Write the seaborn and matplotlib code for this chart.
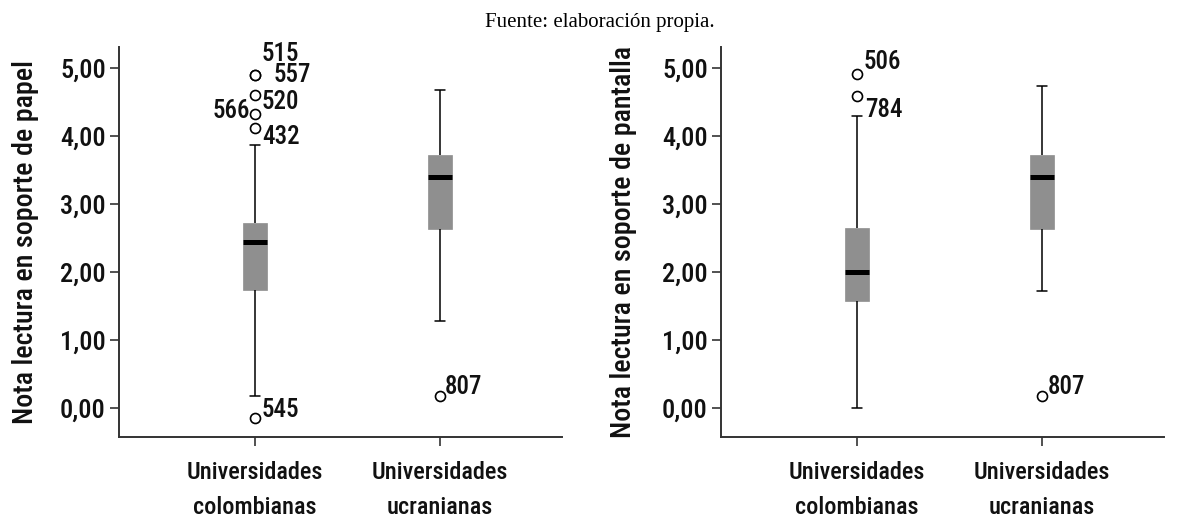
import numpy as np
import pandas as pd
import matplotlib
matplotlib.use("Agg")
import matplotlib.pyplot as plt
from matplotlib import font_manager as fm
from matplotlib.ticker import FuncFormatter
import seaborn as sns

# ---------------- data ----------------
categories = ["Universidades\ncolombianas", "Universidades\nucranianas"]

# five-number summaries (whisker low, Q1, median, Q3, whisker high)
papel_colombianas = [0.17, 1.73, 2.44, 2.71, 3.86]
papel_ucranianas = [1.28, 2.63, 3.39, 3.71, 4.67]
pantalla_colombianas = [0.00, 1.57, 2.00, 2.65, 4.29]
pantalla_ucranianas = [1.71, 2.63, 3.39, 3.71, 4.73]

# outliers
papel_out_group = [0, 0, 0, 0, 0, 0, 1]
papel_out_value = [4.90, 4.90, 4.60, 4.32, 4.11, -0.15, 0.17]
papel_out_label = ["515", "557", "520", "566", "432", "545", "807"]

pantalla_out_group = [0, 0, 1]
pantalla_out_value = [4.91, 4.59, 0.17]
pantalla_out_label = ["506", "784", "807"]

ylabels = ["Nota lectura en soporte de papel", "Nota lectura en soporte de pantalla"]
yticks = [0, 1, 2, 3, 4, 5]
source_text = "Fuente: elaboración propia."

# ---------------- fonts ----------------
sns.set_style("ticks")
names = {f.name for f in fm.fontManager.ttflist}
FONT = None
for cand in ["Roboto Condensed", "Liberation Sans Narrow", "Open Sans Condensed", "DejaVu Sans"]:
    if cand in names:
        FONT = cand
        break
plt.rcParams["font.family"] = [FONT, "DejaVu Sans"]
plt.rcParams["font.weight"] = "medium"

TEXT = "#111111"
BOX = "#8f8f8f"
AXC = "#333333"
WEIGHT = "medium"

fig = plt.figure(figsize=(11.87, 5.18), dpi=100)
ax_positions = [[119 / 1187, 1 - 437 / 518, 443 / 1187, (437 - 46.7) / 518],
                [721 / 1187, 1 - 437 / 518, 443 / 1187, (437 - 46.7) / 518]]

panels = [
    (papel_colombianas, papel_ucranianas, papel_out_group, papel_out_value, papel_out_label),
    (pantalla_colombianas, pantalla_ucranianas, pantalla_out_group, pantalla_out_value, pantalla_out_label),
]

# label offsets in pixels (dx, dy, ha) for each outlier label
label_offsets = [
    [(7, 21, "left"), (19, 0, "left"), (7, -7, "left"), (-5, 3, "right"),
     (7, -9, "left"), (7, 8, "left"), (5, 9, "left")],
    [(7, 12, "left"), (8, -14, "left"), (6, 9, "left")],
]
ylabel_x = [-0.181, -0.19]

for i, (col, ukr, og, ov, ol) in enumerate(panels):
    ax = fig.add_axes(ax_positions[i])
    df = pd.DataFrame({
        "grupo": [categories[0]] * len(col) + [categories[1]] * len(ukr),
        "nota": col + ukr,
    })
    sns.boxplot(data=df, x="grupo", y="nota", order=categories, ax=ax,
                width=0.13, whis=(0, 100), showfliers=False, saturation=1,
                color=BOX, linecolor="black",
                boxprops=dict(facecolor=BOX, edgecolor=BOX, linewidth=0.5),
                medianprops=dict(color="black", linewidth=3.6, solid_capstyle="butt"),
                whiskerprops=dict(color="black", linewidth=1.1),
                capprops=dict(color="black", linewidth=1.1),
                capwidths=0.055)
    odf = pd.DataFrame({"grupo": [categories[g] for g in og], "nota": ov})
    sns.stripplot(data=odf, x="grupo", y="nota", order=categories, ax=ax,
                  jitter=False, size=7.2, color="white", edgecolor="black",
                  linewidth=1.2, zorder=5)
    for (g, v, lab), (dx, dy, ha) in zip(zip(og, ov, ol), label_offsets[i]):
        ax.annotate(lab, xy=(g, v), xytext=(dx, dy), textcoords="offset pixels",
                    ha=ha, va="center", fontsize=18, color=TEXT, fontweight=WEIGHT)

    ax.set_xlim(-0.735, 1.66)
    ax.set_ylim(-0.43, 5.31)
    ax.set_yticks(yticks)
    ax.yaxis.set_major_formatter(FuncFormatter(lambda v, p: f"{v:.2f}".replace(".", ",")))
    ax.set_xlabel("")
    ax.set_ylabel(ylabels[i], fontsize=20.2, color=TEXT, fontweight=WEIGHT)
    ax.yaxis.set_label_coords(ylabel_x[i], 0.5)
    for s in ["top", "right"]:
        ax.spines[s].set_visible(False)
    for s in ["left", "bottom"]:
        ax.spines[s].set_color(AXC)
        ax.spines[s].set_linewidth(1.4)
    ax.tick_params(axis="y", length=6.5, width=1.2, color=AXC, labelsize=19,
                   labelcolor=TEXT, pad=3)
    ax.tick_params(axis="x", length=6.5, width=1.2, color=AXC, labelsize=17.5,
                   labelcolor=TEXT, pad=11)
    for t in ax.get_xticklabels() + ax.get_yticklabels():
        t.set_fontweight(WEIGHT)
    for t in ax.get_xticklabels():
        t.set_linespacing(1.65)
    ax.grid(False)

fig.text(0.5055, 1 - 27 / 518, source_text, ha="center", va="baseline",
         fontsize=15, family=["Liberation Serif", "DejaVu Serif"],
         fontweight="normal", color="#000000")

fig.savefig("out.png", dpi=100)
